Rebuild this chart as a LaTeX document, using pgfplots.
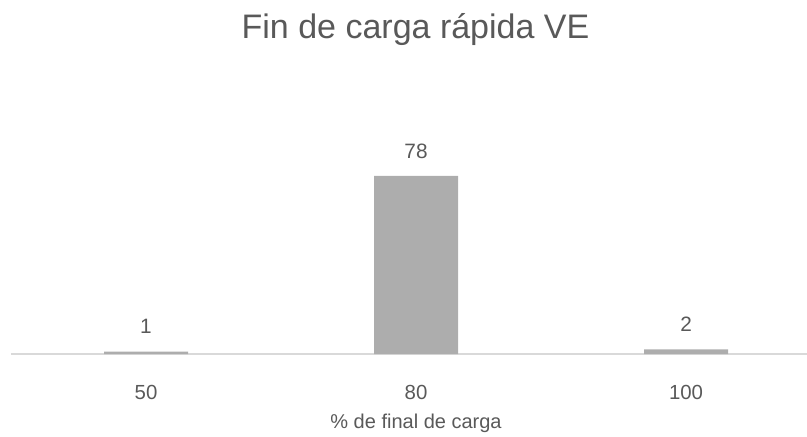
\documentclass[border=0pt]{standalone}
\usepackage{fontspec}
\setmainfont{Liberation Sans}
\usepackage{pgfplots}
\pgfplotsset{compat=1.18}
\definecolor{barc}{HTML}{ADADAD}
\definecolor{txt}{HTML}{595959}
\definecolor{basec}{HTML}{D9D9D9}
\begin{document}
\begin{tikzpicture}
\useasboundingbox (-5.5pt,-41pt) rectangle (398pt,177pt);
\begin{axis}[
  at={(0,0)}, anchor=south west,
  scale only axis, width=398pt, height=122pt,
  xmin=-0.5, xmax=2.448, ymin=0, ymax=106.9,
  axis x line=bottom, axis y line=none,
  x axis line style={-, draw=basec, line width=0.75pt},
  xtick={0,1,2}, xticklabels={50,80,100},
  major tick length=0pt,
  xticklabel style={anchor=center, yshift=-19pt, font=\fontsize{10.2}{12}\selectfont, text=txt},
  ybar, bar width=42pt,
  nodes near coords,
  every node near coord/.append style={anchor=center, yshift=12.5pt, font=\fontsize{10.4}{12}\selectfont, text=txt},
  /pgf/number format/assume math mode=true,
  clip=false,
]
\addplot[fill=barc, draw=none] coordinates {(0,1) (1,78) (2,2)};
\end{axis}
\node[text=txt, font=\fontsize{17}{20}\selectfont] at (202.25pt,162pt) {Fin de carga rápida VE};
\node[text=txt, font=\fontsize{10}{12}\selectfont] at (202.5pt,-34.5pt) {\% de final de carga};
\end{tikzpicture}
\end{document}
